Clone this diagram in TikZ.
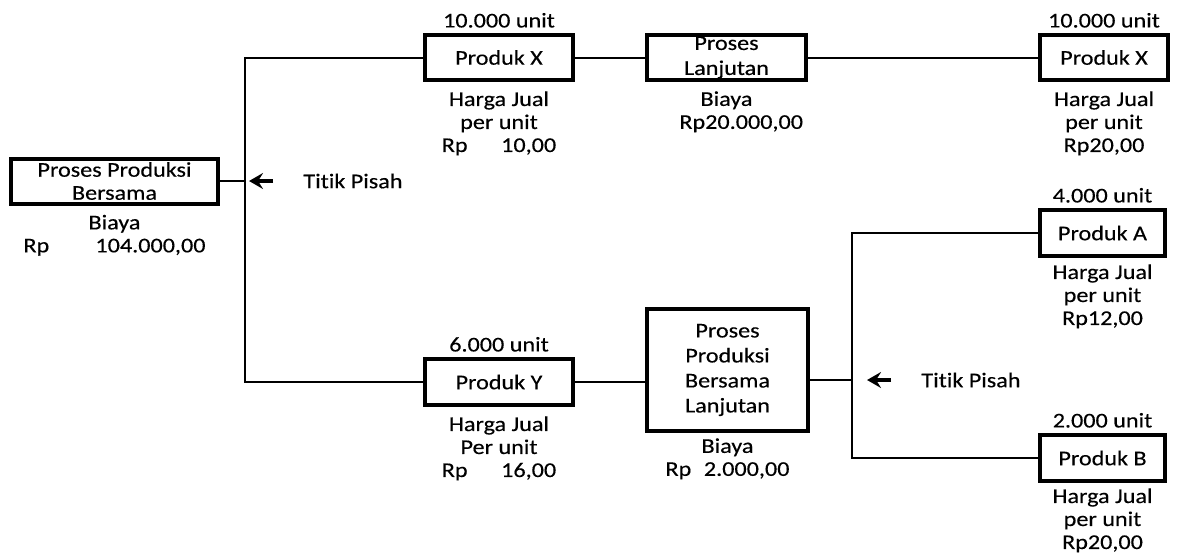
\documentclass[tikz,border=0pt]{standalone}
\usepackage{fontspec}
\setmainfont{Carlito}[FakeStretch=1.15, Ligatures=NoCommon, FakeBold=0.3]
\usetikzlibrary{arrows.meta, positioning}

\begin{document}
\begin{tikzpicture}[
    x=0.5pt, y=-0.5pt,
    font=\fontsize{10.5}{11.5}\selectfont,
    box/.style={draw=black, line width=2pt, align=center, inner sep=0pt},
    widebox/.style={box, font=\fontsize{10.5}{12.5}\selectfont},
    txt/.style={align=center, inner sep=0pt},
    line/.style={draw=black, line width=1pt},
    pisah/.style={-{Stealth[length=7pt, width=8pt, inset=2.5pt]}, line width=1.8pt}
]
    \useasboundingbox (0,0) rectangle (1177,552);

    % Proses produksi bersama (awal)
    \node[box, minimum width=103.5pt, minimum height=22.5pt] (pb) at (114.5,181) {Proses Produksi\\Bersama};
    \node[txt, below=4.5pt of pb] (pb_biaya) {Biaya\\Rp\hspace{2.2em}104.000,00};

    % Titik pisah pertama
    \coordinate (s1) at (245,181);
    \node[txt] (tp1) at (353,181) {Titik Pisah};
    \draw[pisah] ([xshift=-15pt]tp1.west) -- ([xshift=-27pt]tp1.west);

    % Cabang atas: Produk X
    \node[box, minimum width=74pt, minimum height=22.5pt] (px1) at (499,57.5) {Produk X};
    \node[txt, above=2.5pt of px1] (px1_unit) {10.000 unit};
    \node[txt, below=4.5pt of px1] (px1_hj) {Harga Jual\\per unit\\Rp\hspace{1.6em}10,00};

    \node[widebox, minimum width=79.5pt, minimum height=22.5pt] (pl) at (726.5,57.5) {Proses\\Lanjutan};
    \node[txt, below=4.5pt of pl] (pl_biaya) {Biaya\\\hspace*{1.4em}Rp20.000,00};

    \node[box, minimum width=64pt, minimum height=22.5pt] (px2) at (1104,57.5) {Produk X};
    \node[txt, above=2.5pt of px2] (px2_unit) {10.000 unit};
    \node[txt, below=4.5pt of px2] (px2_hj) {Harga Jual\\per unit\\Rp20,00};

    % Cabang bawah: Produk Y
    \node[box, minimum width=74pt, minimum height=23pt] (py) at (499,382) {Produk Y};
    \node[txt, above=2.5pt of py] (py_unit) {6.000 unit};
    \node[txt, below=4.5pt of py] (py_hj) {Harga Jual\\Per unit\\Rp\hspace{1.6em}16,00};

    \node[widebox, minimum width=80.5pt, minimum height=61pt] (ppbl) at (727.5,370) {Proses\\Produksi\\Bersama\\Lanjutan};
    \node[txt, below=2.5pt of ppbl] (ppbl_biaya) {Biaya\\Rp\hspace{0.6em}2.000,00};

    % Titik pisah kedua
    \coordinate (s2) at (852,380);
    \node[txt] (tp2) at (971,380) {Titik Pisah};
    \draw[pisah] ([xshift=-15pt]tp2.west) -- ([xshift=-27pt]tp2.west);

    \node[box, minimum width=62.5pt, minimum height=23pt] (pa) at (1102.5,233) {Produk A};
    \node[txt, above=2.5pt of pa] (pa_unit) {4.000 unit};
    \node[txt, below=3pt of pa] (pa_hj) {Harga Jual\\per unit\\Rp12,00};

    \node[box, minimum width=62.5pt, minimum height=23pt] (pbb) at (1102.5,458) {Produk B};
    \node[txt, above=2.5pt of pbb] (pbb_unit) {2.000 unit};
    \node[txt, below=2.5pt of pbb] (pbb_hj) {Harga Jual\\per unit\\Rp20,00};

    % Garis penghubung
    \draw[line] (pb.east) -- (pb.east -| s1);
    \draw[line] (px1.west) -| (s1 |- py.west) -- (py.west);
    \draw[line] (px1.east) -- (pl.west);
    \draw[line] (pl.east) -- (px2.west);
    \draw[line] (py.east) -- (py.east -| ppbl.west);
    \draw[line] (ppbl.east |- s2) -- (s2);
    \draw[line] (pa.west) -| (s2 |- pbb.west) -- (pbb.west);

\end{tikzpicture}
\end{document}
